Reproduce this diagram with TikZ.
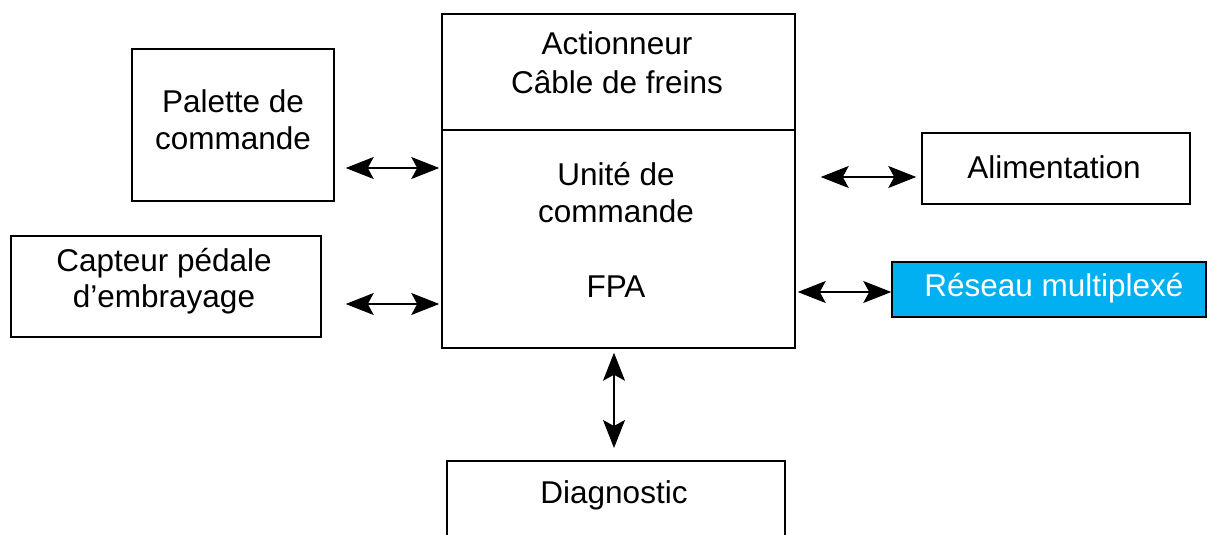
\documentclass[tikz,border=0pt]{standalone}
\usepackage{fontspec}
\setmainfont{Liberation Sans}
\usetikzlibrary{arrows.meta}
\definecolor{netblue}{RGB}{0,176,240}
\begin{document}
\begin{tikzpicture}[x=1pt,y=-1pt,
  box/.style={draw,line width=1.5pt,inner sep=0pt},
  txt/.style={anchor=base,inner sep=0pt,font=\fontsize{31.5}{38}\selectfont},
  tip/.tip={Stealth[length=28pt,width=22pt,inset=6pt]},
  arr/.style={line width=1.1pt,tip-tip}]
\useasboundingbox (0,0) rectangle (1208,535);
% boxes
\node[box,minimum width=202pt,minimum height=152pt] (pal) at (233,125) {};
\node[box,minimum width=310pt,minimum height=101pt] (cap) at (166,286.5) {};
\node[box,minimum width=353pt,minimum height=116pt] (act) at (618.5,72) {};
\node[box,minimum width=353pt,minimum height=218pt] (ucu) at (618.5,239) {};
\node[box,minimum width=268pt,minimum height=71pt] (ali) at (1056,168.5) {};
\node[box,fill=netblue,minimum width=314pt,minimum height=55pt] (res) at (1049,289.5) {};
\node[box,minimum width=338pt,minimum height=140pt,anchor=north] (dia) at (616,460) {};
% texts
\node[txt] (t1) at (233,113) {Palette de};
\node[txt] (t2) at (233,149) {commande};
\node[txt] (t3) at (164,271) {Capteur pédale};
\node[txt] (t4) at (164,307) {d’embrayage};
\node[txt] (t5) at (617,55) {Actionneur};
\node[txt] (t6) at (617,93) {Câble de freins};
\node[txt] (t7) at (616,185) {Unité de};
\node[txt] (t8) at (616,222) {commande};
\node[txt] (t9) at (616,297) {FPA};
\node[txt] (t10) at (1054,178) {Alimentation};
\node[txt,text=white] (t11) at (1054,296) {Réseau multiplexé};
\node[txt] (t12) at (614,503) {Diagnostic};
% connector levels
\coordinate (l1) at (0,168);
\coordinate (l2) at (0,304);
\coordinate (r1) at (0,177);
\coordinate (r2) at (0,292);
\coordinate (v1) at (614,0);
\draw[arr,shorten <=11pt,shorten >=2pt] (pal.east |- l1) -- (ucu.west |- l1);
\draw[arr,shorten <=24pt,shorten >=2pt] (cap.east |- l2) -- (ucu.west |- l2);
\draw[arr,shorten <=25pt,shorten >=5pt] (ucu.east |- r1) -- (ali.west |- r1);
\draw[arr,shorten <=2pt,shorten >=0pt] (ucu.east |- r2) -- (res.west |- r2);
\draw[arr,shorten <=4pt,shorten >=12pt] (ucu.south -| v1) -- (dia.north -| v1);
\end{tikzpicture}
\end{document}
